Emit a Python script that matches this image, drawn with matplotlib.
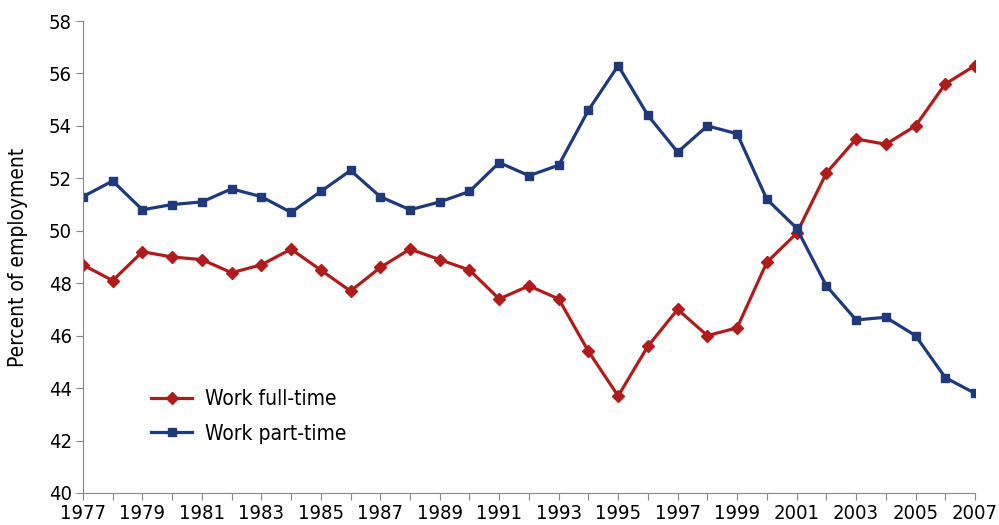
import numpy as np
import matplotlib
matplotlib.use('Agg')
import matplotlib.pyplot as plt

years = list(range(1977, 2008))
full_time = [48.7, 48.1, 49.2, 49.0, 48.9, 48.4, 48.7, 49.3, 48.5, 47.7,
             48.6, 49.3, 48.9, 48.5, 47.4, 47.9, 47.4, 45.4, 43.7, 45.6,
             47.0, 46.0, 46.3, 48.8, 49.9, 52.2, 53.5, 53.3, 54.0, 55.6, 56.3]
part_time = [51.3, 51.9, 50.8, 51.0, 51.1, 51.6, 51.3, 50.7, 51.5, 52.3,
             51.3, 50.8, 51.1, 51.5, 52.6, 52.1, 52.5, 54.6, 56.3, 54.4,
             53.0, 54.0, 53.7, 51.2, 50.1, 47.9, 46.6, 46.7, 46.0, 44.4, 43.8]
year_labels = [str(y) if (y - 1977) % 2 == 0 else '' for y in years]

plt.rcParams['font.family'] = ['DejaVu Sans']
plt.rcParams['font.stretch'] = 'condensed'

red = '#b01c1c'
blue = '#1f3a7a'

fig = plt.figure(figsize=(9.99, 5.25), dpi=100)
ax = fig.add_axes([0.083, 0.061, 0.893, 0.899])

ax.plot(years, full_time, color=red, lw=2.3, marker='D', ms=6, label='Work full-time')
ax.plot(years, part_time, color=blue, lw=2.3, marker='s', ms=6, label='Work part-time')

ax.set_xlim(1977, 2007)
ax.set_ylim(40, 58)
ax.set_yticks(np.arange(40, 59, 2))
ax.set_xticks(years)
ax.set_xticklabels(year_labels)
ax.tick_params(labelsize=14.5, color='#888888', length=5, direction='out', pad=3)
for s in ['top', 'right']:
    ax.spines[s].set_visible(False)
for s in ['left', 'bottom']:
    ax.spines[s].set_color('#888888')
ax.set_ylabel('Percent of employment', fontsize=15)
ax.yaxis.set_label_coords(-0.062, 0.5)

ax.legend(loc='lower left', bbox_to_anchor=(0.055, 0.065), frameon=False,
          fontsize=15, handlelength=2.0, handletextpad=0.6, labelspacing=0.7)

fig.savefig('out.png', dpi=100)
